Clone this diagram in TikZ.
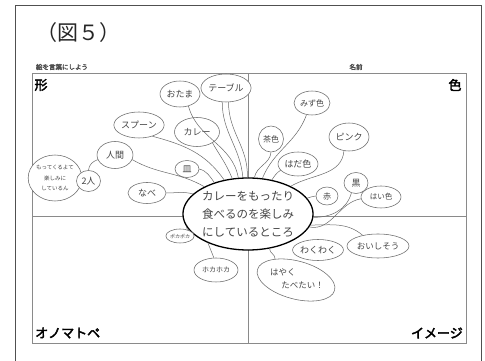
\documentclass[tikz,border=0pt]{standalone}
\usepackage{fontspec}
\usetikzlibrary{shapes.geometric}
\newfontfamily\jp{Noto Sans CJK JP}
\newfontfamily\jpb[FakeBold=3]{Noto Sans CJK JP}
\definecolor{lg}{HTML}{6A6A6A}
\definecolor{tg}{HTML}{454545}
\definecolor{fr}{HTML}{505050}
\definecolor{sh}{HTML}{8A8A8A}
\begin{document}
\begin{tikzpicture}[x=1pt,y=1pt,
  bub/.style={ellipse, draw=lg, line width=0.55pt, inner sep=0pt, fill=white, text=tg,
              font=\jp\fontsize{9}{10}\selectfont},
  conn/.style={draw=lg, line width=0.5pt},
  lab/.style={inner sep=0pt, font=\jpb\fontsize{13}{13}\selectfont, text=black},
  small/.style={inner sep=0pt, font=\jpb\fontsize{6.5}{7}\selectfont, text=fr}]
\useasboundingbox (0,0) rectangle (485,361);
\fill[white] (0,0) rectangle (485,361);
% outer frame
\draw[fr, line width=0.9pt] (15,0) -- (15,356) -- (481,356) -- (481,0);
% title
\node[anchor=west, inner sep=0pt, font=\jp\fontsize{21}{21}\selectfont, text=black!85] (title) at (36,328) {（図５）};
% header
\node[small] (hdr) at (62,294) {絵を言葉にしよう};
\node[small] (name) at (356,294) {名前};
% sheet
\draw[sh, line width=0.8pt] (32,18) rectangle (466,288);
\draw[sh, line width=0.8pt] (248,18) -- (248,288);
\draw[sh, line width=0.8pt] (32,145) -- (466,145);
% corner labels
\node[lab] (katachi) at (41,276) {形};
\node[lab] (iro) at (455,276) {色};
\node[lab, anchor=west] (onoma) at (35,28) {オノマトペ};
\node[lab, anchor=east] (image) at (463,28) {イメージ};
% center
\node[ellipse, draw=black, line width=1.3pt, fill=white, minimum width=112pt, minimum height=72pt,
      inner sep=0pt, align=center, text=tg, font=\jp\fontsize{11.5}{18}\selectfont] (c) at (248,147)
      {カレーをもったり\\食べるのを楽しみ\\にしているところ};
% shape quadrant
\node[bub, minimum width=40pt, minimum height=26pt] (otama) at (180,267) {おたま};
\node[bub, minimum width=46pt, minimum height=28pt] (table) at (226,273) {テーブル};
\node[bub, minimum width=38pt, minimum height=26pt] (spoon) at (139,236) {スプーン};
\node[bub, minimum width=45pt, minimum height=29pt] (curry) at (197,229) {カレー};
\node[bub, minimum width=36pt, minimum height=27pt] (human) at (115,206) {人間};
\node[bub, minimum width=42pt, minimum height=46pt, align=center,
      font=\jp\fontsize{5.5}{10.5}\selectfont] (bring) at (55,183) {もってくるよて\\楽しみに\\しているん};
\node[bub, minimum width=24pt, minimum height=21pt] (two) at (88.5,180) {2人};
\node[bub, minimum width=24pt, minimum height=17pt] (plate) at (187,192) {皿};
\node[bub, minimum width=38pt, minimum height=21pt] (nabe) at (147,168) {なべ};
% colour quadrant
\node[bub, minimum width=36pt, minimum height=24pt, font=\jp\fontsize{8}{9}\selectfont] (mizu) at (312,258) {みず色};
\node[bub, minimum width=25pt, minimum height=26pt, font=\jp\fontsize{8}{9}\selectfont] (cha) at (271,222) {茶色};
\node[bub, minimum width=40pt, minimum height=28pt] (pink) at (349,224) {ピンク};
\node[bub, minimum width=40pt, minimum height=24pt] (hada) at (298,197) {はだ色};
\node[bub, minimum width=22pt, minimum height=18pt, font=\jp\fontsize{8}{9}\selectfont] (aka) at (327,165) {赤};
\node[bub, minimum width=24pt, minimum height=21pt] (kuro) at (356,178) {黒};
\node[bub, minimum width=40pt, minimum height=22pt, font=\jp\fontsize{7.5}{8}\selectfont] (hai) at (381,164) {はい色};
% onomatopoeia
\node[bub, minimum width=27pt, minimum height=14pt, font=\jp\fontsize{5}{6}\selectfont] (poka) at (180,125) {ポカポカ};
\node[bub, minimum width=44pt, minimum height=24pt, font=\jp\fontsize{7}{8}\selectfont] (hoka) at (216,91) {ホカホカ};
% image
\node[bub, minimum width=48pt, minimum height=21pt] (waku) at (318,111) {わくわく};
\node[bub, minimum width=62pt, minimum height=24pt, font=\jp\fontsize{8.5}{9}\selectfont] (oishi) at (378,115) {おいしそう};
\node[bub, minimum width=80pt, minimum height=38pt, rotate=-15] (hayaku) at (296,81) {};
\node[inner sep=0pt, align=left, text=tg, font=\jp\fontsize{8.5}{13}\selectfont] (hayakut) at (297,82)
      {はやく\\\hspace{1.3em}たべたい！};
% connectors
\draw[conn] (otama.-55) to[out=-75,in=100] (c.105);
\draw[conn] (table.-105) to[out=-90,in=95] (c.98);
\draw[conn] (table.-80) to[out=-90,in=88] (c.91);
\draw[conn] (curry.-35) to[out=-60,in=112] (c.114);
\draw[conn] (spoon.-40) to[out=-15,in=125] (c.125);
\draw[conn] (human.-15) to[out=-30,in=150] (c.148);
\draw[conn] (two.north) to[out=85,in=200] (human.195);
\draw[conn] (plate.east) to[out=-15,in=125] (c.137);
\draw[conn] (nabe.east) to[out=0,in=165] (c.160);
\draw[conn] (mizu.-115) to[out=-110,in=68] (c.68);
\draw[conn] (cha.south) to[out=-95,in=80] (c.80);
\draw[conn] (hada.200) to[out=-150,in=55] (c.55);
\draw[conn] (pink.-110) to[out=-95,in=30] (c.33);
\draw[conn] (aka.west) to[out=185,in=15] (c.15);
\draw[conn] (kuro.-115) to[out=-105,in=0] (c.-3);
\draw[conn] (hai.185) to[out=190,in=-10] (c.-12);
\draw[conn] (poka.40) to[out=45,in=200] (c.192);
\draw[conn] (hoka.100) -- (c.-144);
\draw[conn] (c.-10) to[out=0,in=140] (oishi.145);
\draw[conn] (c.-58) to[out=-95,in=80] (hayaku.150);
\end{tikzpicture}
\end{document}
